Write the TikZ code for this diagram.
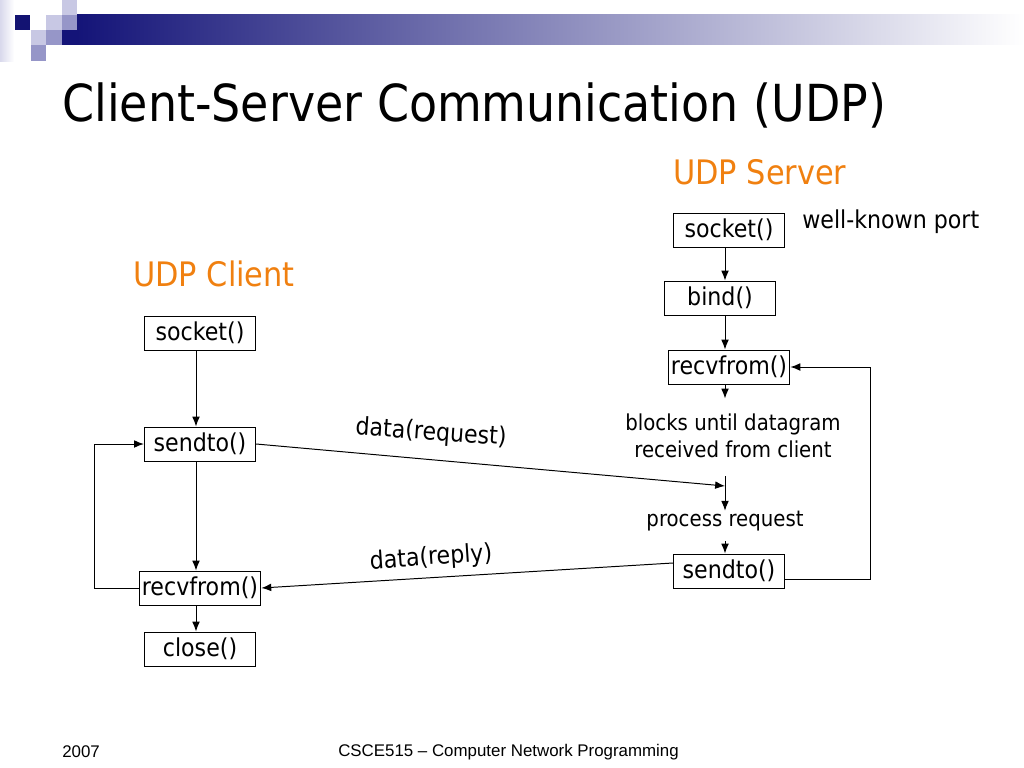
\documentclass[tikz,border=0pt]{standalone}
\usepackage{fontspec}
\setmainfont{DejaVu Sans Condensed}
\newfontfamily\footfont{Liberation Sans}
\usetikzlibrary{arrows.meta, positioning}
\definecolor{navy}{RGB}{20,20,120}
\definecolor{lavlight}{RGB}{200,200,228}
\definecolor{lavmid}{RGB}{150,150,200}
\definecolor{udporange}{RGB}{240,128,16}

\begin{document}
\begin{tikzpicture}[x=0.025cm, y=-0.025cm]
\tikzstyle{block} = [rectangle, draw, line width=0.7pt, text = black, font=\fontsize{17.5}{20}\selectfont,
    minimum width=2.78cm, minimum height=0.85cm, inner sep=2pt]
\tikzstyle{line} = [draw, line width=0.7pt, -{Latex[length=7pt,width=5.5pt]}]
\tikzstyle{note} = [font=\fontsize{17.5}{22}\selectfont, align=center, inner sep=0pt]
\tikzstyle{small} = [font=\fontsize{15.6}{19.5}\selectfont, align=center, inner sep=0pt]
\tikzstyle{side} = [font=\fontsize{24}{28}\selectfont, text=udporange, inner sep=0pt]
\tikzstyle{foot} = [font=\footfont\fontsize{12}{14}\selectfont, anchor=west, inner sep=0pt]
\useasboundingbox (0,0) rectangle (1024,768);

    % Slide decoration
    \shade[left color=lavlight!70, right color=white] (0,0) rectangle (14,62);
    \shade[left color=navy, right color=white] (77,15) rectangle (1024,45);
    \fill[navy] (62,30) rectangle (77,45);
    \fill[navy!95!black] (15,15) rectangle (30,30);
    \fill[lavlight] (62,0) rectangle (77,15);
    \fill[lavlight] (46,15) rectangle (62,30);
    \fill[lavmid] (62,15) rectangle (77,30);
    \fill[lavlight] (31,30) rectangle (46,45);
    \fill[lavmid] (46,30) rectangle (62,45);
    \fill[lavmid] (31,45) rectangle (46,61);

    % Title and headings
    \node [anchor=west, inner sep=0pt, font=\fontsize{36.3}{42}\selectfont] (title) at (62,105) {Client-Server Communication (UDP)};
    \node [side, anchor=west] (server) at (673,172) {UDP Server};
    \node [side, anchor=west] (client) at (133,274) {UDP Client};

    % Place nodes
    \coordinate (caxis) at (196,0);
    \coordinate (saxis) at (725,0);
    \node [block] (csocket) at (200,333) {socket()};
    \node [block] (csend) at (200,444) {sendto()};
    \node [block] (crecv) at (200,588) {recvfrom()};
    \node [block] (cclose) at (200,649) {close()};

    \node [block] (ssocket) at (729,230) {socket()};
    \node [note, anchor=west] (port) at (802,222) {well-known port};
    \node [block] (sbind) at (720,298) {bind()};
    \node [block] (srecv) at (729,367) {recvfrom()};
    \node [small] (blocks) at (733,436) {blocks until datagram\\received from client};
    \coordinate (meet) at (725,486);
    \node [small] (process) at (725,521) {process request};
    \node [block] (ssend) at (729,571) {sendto()};

    % Arrow labels
    \node [note, rotate=-4] (request) at (431,433) {data(request)};
    \node [note, rotate=4] (reply) at (431,558) {data(reply)};

    % Footer
    \node [foot] (year) at (62,752) {2007};
    \node [foot] (course) at (338,752) {CSCE515 – Computer Network Programming};

%paths
    \path [line] (csocket.south -| caxis) -- (csend.north -| caxis);
    \path [line] (csend.south -| caxis) -- (crecv.north -| caxis);
    \path [line] (crecv.south -| caxis) -- (cclose.north -| caxis);
    \path [line] (crecv.west) -- ++(-44,0) |- (csend.west);

    \path [line] (ssocket.south -| saxis) -- (sbind.north -| saxis);
    \path [line] (sbind.south -| saxis) -- (srecv.north -| saxis);
    \path [line] (srecv.south -| saxis) -- ++(0,14);
    \path [line] ([yshift=-0.45cm]blocks.south -| saxis) -- (process.north -| saxis);
    \path [line] ([yshift=-0.25cm]process.south -| saxis) -- (ssend.north -| saxis);
    \path [line] ([yshift=-0.22cm]ssend.east) -- ++(85,0) |- (srecv.east);

    \path [line] (csend.east) -- (meet);
    \path [line] ([yshift=0.2cm]ssend.west) -- (crecv.east);

\end{tikzpicture}
\end{document}
